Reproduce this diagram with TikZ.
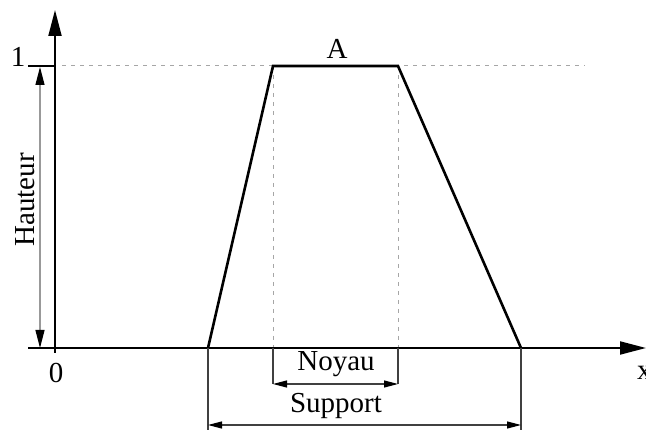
\documentclass[tikz,border=0pt]{standalone}
\usepackage{fontspec}
\setmainfont{Liberation Serif}
\usetikzlibrary{arrows.meta}
\begin{document}
\begin{tikzpicture}[x=1pt,y=-1pt,
  lbl/.style={font=\fontsize{29}{30}\selectfont, inner sep=0pt},
  axis/.style={line width=2pt, -{Triangle[length=26pt,width=13pt]}},
  curve/.style={line width=2.6pt, line join=miter},
  guide/.style={gray!70, line width=1pt, dash pattern=on 4pt off 5pt},
  dim/.style={line width=1.2pt, black!75},
  dimarrow/.style={line width=1.2pt, black!75, {Triangle[length=14pt,width=7pt,color=black]}-{Triangle[length=14pt,width=7pt,color=black]}},
]
\useasboundingbox (0,0) rectangle (646,430);
% key points
\coordinate (O) at (55,348);
\coordinate (xs) at (28,348);
\coordinate (xe) at (646,348);
\coordinate (ys) at (55,353);
\coordinate (ye) at (55,10);
\coordinate (p1) at (208,348);
\coordinate (p2) at (273,66);
\coordinate (p3) at (398,66);
\coordinate (p4) at (521,348);
\coordinate (t1) at (28,66);
\coordinate (g0) at (62,66);
\coordinate (g1) at (585,66);
% guides
\draw[guide] (g0) -- (g1);
\draw[guide] (p2) -- (273,348);
\draw[guide] (p3) -- (398,348);
% axes
\draw[axis] (xs) -- (xe);
\draw[axis] (ys) -- (ye);
\draw[line width=2pt] (t1) -- (55,66);
% trapezoid
\draw[curve] (p1) -- (p2) -- (p3) -- (p4);
% hauteur
\coordinate (h0) at (40,348);
\coordinate (h1) at (40,67);
\draw[line width=1.2pt, gray!80, {Triangle[length=18pt,width=9pt,color=black]}-{Triangle[length=18pt,width=9pt,color=black]}] (h0) -- (h1);
\node[lbl, rotate=90] (haut) at (25,200) {Hauteur};
% noyau
\coordinate (n1) at (273,384);
\coordinate (n2) at (398,384);
\draw[dim] (273,348) -- (n1);
\draw[dim] (398,348) -- (n2);
\draw[dimarrow] (n1) -- (n2);
\node[lbl] (noyau) at (336,364) {Noyau};
% support
\coordinate (s1) at (208,425);
\coordinate (s2) at (521,425);
\draw[dim] (p1) -- (208,430);
\draw[dim] (p4) -- (521,430);
\draw[dimarrow] (s1) -- (s2);
\node[lbl] (support) at (336,406) {Support};
% labels
\node[lbl] (zero) at (56,373) {0};
\node[lbl] (one) at (18,57) {1};
\node[lbl] (A) at (337,49) {A};
\node[lbl, anchor=west] (xl) at (637,373) {x};
\end{tikzpicture}
\end{document}
